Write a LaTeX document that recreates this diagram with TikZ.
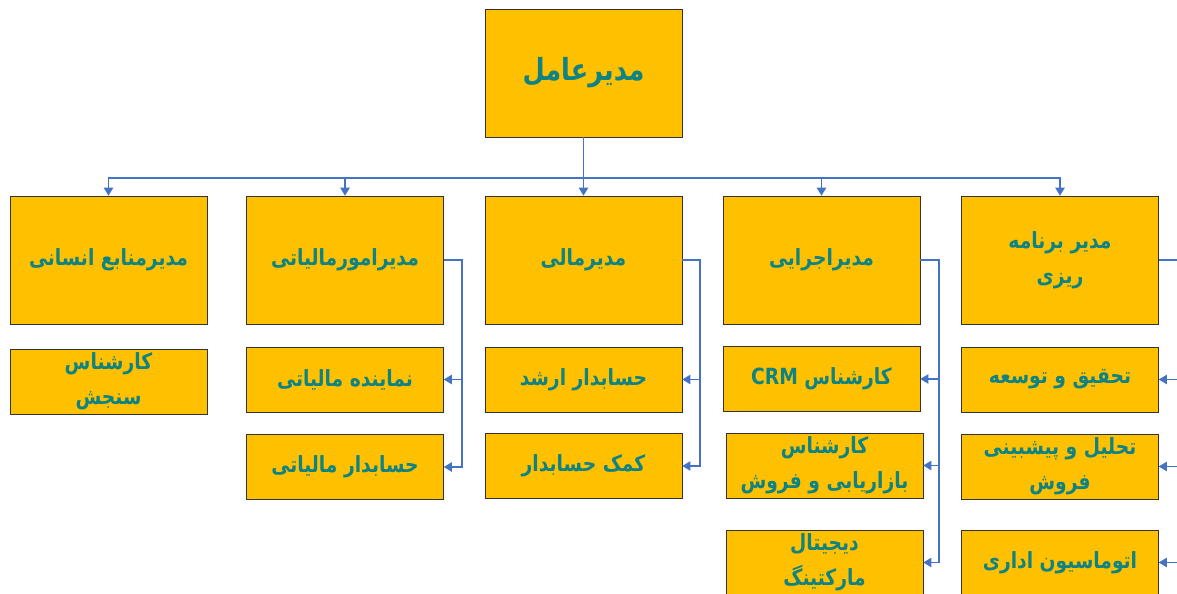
\documentclass[tikz,border=0pt]{standalone}
\usepackage{fontspec}
\usepackage{xcolor}
\usepackage{tikz}
\usetikzlibrary{arrows.meta}
\TeXXeTstate=1
\newfontfamily\arabicfont[Script=Arabic, FakeStretch=0.84]{DejaVu Sans}
\definecolor{boxcolor}{HTML}{FFC000}
\definecolor{labelcolor}{HTML}{0F8282}
\definecolor{wirecolor}{HTML}{4472C4}
\newcommand{\fa}[1]{\beginR #1\endR}

\begin{document}
\begin{tikzpicture}[x=0.03cm, y=-0.03cm,
  post/.style={draw=black!80, fill=boxcolor, text=labelcolor, align=center, minimum width=5.91cm,
    font=\arabicfont\bfseries\fontsize{19}{30}\selectfont},
  headpost/.style={post, minimum height=3.84cm},
  subpost/.style={post, minimum height=1.95cm, inner ysep=0pt},
  wire/.style={draw=wirecolor, line width=1.4pt},
  feed/.style={wire, -{Triangle[length=7pt, width=8pt]}}]%
\useasboundingbox (0,0) rectangle (1177,594);%
% top
\node[headpost, font=\arabicfont\bfseries\fontsize{26}{32}\selectfont] (ceo) at (583.5, 73) {\fa{مدیرعامل}};%
% managers
\node[headpost] (hr) at (108.5, 260) {\fa{مدیرمنابع انسانی}};%
\node[headpost] (tax) at (345, 260) {\fa{مدیرامورمالیاتی}};%
\node[headpost] (fin) at (583.5, 260) {\fa{مدیرمالی}};%
\node[headpost] (exe) at (821.5, 260) {\fa{مدیراجرایی}};%
\node[headpost] (plan) at (1060, 260) {\fa{مدیر برنامه}\\\fa{ریزی}};%
% staff
\node[subpost] (hrexp) at (108.5, 381.5) {\fa{کارشناس}\\\fa{سنجش}};%
\node[subpost] (taxrep) at (345, 379.5) {\fa{نماینده مالیاتی}};%
\node[subpost] (taxacc) at (345, 467) {\fa{حسابدار مالیاتی}};%
\node[subpost] (finsen) at (583.5, 379.5) {\fa{حسابدار ارشد}};%
\node[subpost] (finasst) at (583.5, 466) {\fa{کمک حسابدار}};%
\node[subpost] (crm) at (821.5, 379) {\fa{کارشناس \beginL CRM\endL}};%
\node[subpost] (mkt) at (824.5, 465.5) {\fa{کارشناس}\\\fa{بازاریابی و فروش}};%
\node[subpost] (dig) at (824.5, 562.5) {\fa{دیجیتال}\\\fa{مارکتینگ}};%
\node[subpost] (rnd) at (1060, 379.5) {\fa{تحقیق و توسعه}};%
\node[subpost] (fcst) at (1060, 466.5) {\fa{تحلیل و پیشبینی}\\\fa{فروش}};%
\node[subpost] (auto) at (1060, 562.5) {\fa{اتوماسیون اداری}};%
% links
\coordinate (bus) at (583.5, 178);%
\draw[wire] (ceo.south) -- (bus);%
\foreach \m in {hr, tax, fin, exe, plan}
  \draw[feed] (bus) -| (\m.north);%
\foreach \m/\s in {tax/taxrep, tax/taxacc, fin/finsen, fin/finasst}
  \draw[feed] (\m.east) -- ++(18,0) |- (\s.east);%
\foreach \s in {crm, mkt, dig}
  \draw[feed] (exe.east) -- ++(19,0) |- (\s.east);%
\foreach \s in {rnd, fcst, auto}
  \draw[feed] (plan.east) -- ++(30,0) |- (\s.east);%
\end{tikzpicture}
\end{document}
